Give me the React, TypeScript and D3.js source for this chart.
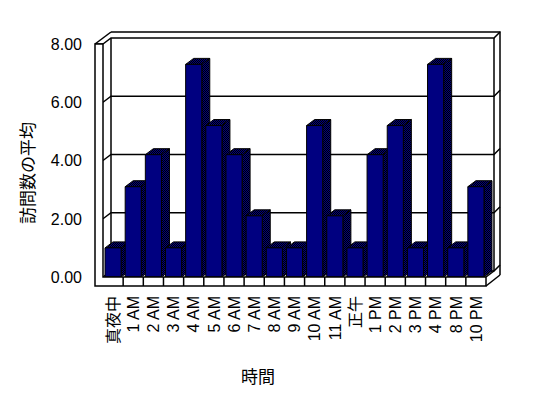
//@ts-nocheck
import * as d3 from 'd3';
import { useEffect, useRef } from 'react';

// categories (hour of day) and average visits
const categories = [
  '真夜中', '1 AM', '2 AM', '3 AM', '4 AM', '5 AM', '6 AM', '7 AM', '8 AM', '9 AM',
  '10 AM', '11 AM', '正午', '1 PM', '2 PM', '3 PM', '4 PM', '8 PM', '10 PM',
];
const visits = [1.0, 3.1, 4.2, 1.0, 7.3, 5.2, 4.2, 2.1, 1.0, 1.0, 5.2, 2.1, 1.0, 4.2, 5.2, 1.0, 7.3, 1.0, 3.1];
const yTicks = [0, 2, 4, 6, 8];
const yTitle = '訪問数の平均';
const xTitle = '時間';

export default function App() {
  const ref = useRef(null);

  useEffect(() => {
    const el = ref.current;
    el.innerHTML = '';

    const W = 548;
    const H = 398;
    // front plane of the plot
    const P = { left: 103, right: 486, top: 44, bottom: 277 };
    const DX = 8; // depth offset
    const DY = -6;
    const WALL = 8; // wall thickness
    const FLOOR = 9;
    const FONT = 'Arial, "Liberation Sans", sans-serif';
    const JP = '"Noto Sans CJK JP", sans-serif';

    const x = d3.scaleBand().domain(categories).range([P.left, P.right]).paddingInner(0.2).paddingOuter(0.1);
    const y = d3.scaleLinear().domain([0, 8]).range([P.bottom, P.top]);

    const svg = d3
      .select(el)
      .append('svg')
      .attr('width', W)
      .attr('height', H)
      .style('position', 'absolute')
      .style('left', 0)
      .style('top', 0)
      .style('background', '#fff');

    // dithered fill for side / top faces
    const pat = svg
      .append('defs')
      .append('pattern')
      .attr('id', 'dither')
      .attr('width', 2)
      .attr('height', 2)
      .attr('patternUnits', 'userSpaceOnUse');
    pat.append('rect').attr('width', 2).attr('height', 2).attr('fill', '#000080');
    pat.append('rect').attr('width', 1).attr('height', 1).attr('fill', '#000');
    pat.append('rect').attr('x', 1).attr('y', 1).attr('width', 1).attr('height', 1).attr('fill', '#000');

    const line = (g, pts) =>
      g.append('path').attr('d', d3.line()(pts)).attr('fill', 'none').attr('stroke', '#000').attr('stroke-width', 1.5);

    const frame = svg.append('g');
    const outerL = P.left - WALL; // side wall outer face (front)
    const backInR = P.right + DX; // back wall inner right
    const backOutR = backInR + 6; // back wall outer right

    // back wall & right end
    line(frame, [
      [outerL + 2 * DX, y(8) + 2 * DY],
      [backOutR, y(8) + 2 * DY],
      [backOutR, P.bottom + FLOOR - 11],
    ]);
    line(frame, [
      [P.left + DX, P.bottom + DY],
      [P.left + DX, y(8) + DY],
    ]);
    line(frame, [
      [backInR, y(8) + DY],
      [backInR, P.bottom + DY],
    ]);

    // gridlines over side wall, back wall and right end
    yTicks.forEach((v) => {
      const fy = y(v);
      if (v > 0) {
        line(frame, [
          [outerL, fy],
          [P.left, fy],
        ]);
      }
      line(frame, [
        [P.left, fy],
        [P.left + DX, fy + DY],
        [backInR, fy + DY],
        [backOutR, fy + 2 * DY],
      ]);
    });

    // side wall top face
    line(frame, [
      [outerL, y(8)],
      [outerL + 2 * DX, y(8) + 2 * DY],
    ]);

    // bars
    const bars = svg.append('g');
    categories.forEach((c, i) => {
      const x0 = x(c);
      const x1 = x0 + x.bandwidth();
      const yt = y(visits[i]);
      const yb = y(0);
      const g = bars.append('g').attr('stroke', '#000').attr('stroke-width', 1).attr('stroke-linejoin', 'round');
      g.append('path')
        .attr('d', d3.line()([[x1, yt], [x1 + DX, yt + DY], [x1 + DX, yb + DY], [x1, yb]]) + 'Z')
        .attr('fill', 'url(#dither)');
      g.append('path')
        .attr('d', d3.line()([[x0, yt], [x0 + DX, yt + DY], [x1 + DX, yt + DY], [x1, yt]]) + 'Z')
        .attr('fill', 'url(#dither)');
      g.append('rect')
        .attr('x', x0)
        .attr('y', yt)
        .attr('width', x.bandwidth())
        .attr('height', yb - yt)
        .attr('fill', '#000080');
    });

    // floor front, side wall front
    const front = svg.append('g');
    front
      .append('path')
      .attr(
        'd',
        d3.line()([
          [outerL, y(8)],
          [P.left, y(8)],
          [P.left, P.bottom],
          [P.right, P.bottom],
          [P.right, P.bottom + FLOOR],
          [outerL, P.bottom + FLOOR],
        ]) + 'Z'
      )
      .attr('fill', '#fff')
      .attr('stroke', '#000')
      .attr('stroke-width', 1.5);
    // floor right end
    line(front, [
      [P.right, P.bottom],
      [backInR, P.bottom + DY],
    ]);
    line(front, [
      [P.right, P.bottom + FLOOR],
      [backOutR, P.bottom + FLOOR - 11],
    ]);
    // category separators on floor front
    const step = x.step();
    d3.range(1, categories.length).forEach((k) => {
      const tx = P.left + k * step;
      line(front, [
        [tx, P.bottom],
        [tx, P.bottom + FLOOR],
      ]);
    });

    // y tick labels
    svg
      .append('g')
      .selectAll('text')
      .data(yTicks)
      .join('text')
      .attr('x', 82)
      .attr('y', (d) => y(d))
      .attr('dy', '0.36em')
      .attr('text-anchor', 'end')
      .attr('fill', '#000')
      .attr('font-family', FONT)
      .attr('font-size', 16)
      .text((d) => d3.format('.2f')(d));

    // x tick labels (rotated)
    svg
      .append('g')
      .selectAll('text')
      .data(categories)
      .join('text')
      .attr('transform', (d) => `translate(${x(d) + x.bandwidth() / 2},${P.bottom + FLOOR + 10}) rotate(-90)`)
      .attr('dy', '0.36em')
      .attr('text-anchor', 'end')
      .attr('fill', '#000')
      .attr('font-family', (d) => (/[A-Z0-9]/.test(d) ? FONT : JP))
      .attr('font-size', 16)
      .text((d) => d);

    // axis titles
    svg
      .append('text')
      .attr('transform', `translate(28,173) rotate(-90)`)
      .attr('dy', '0.36em')
      .attr('text-anchor', 'middle')
      .attr('fill', '#000')
      .attr('font-family', JP)
      .attr('font-size', 17)
      .text(yTitle);

    svg
      .append('text')
      .attr('x', 258)
      .attr('y', 377)
      .attr('dy', '0.36em')
      .attr('text-anchor', 'middle')
      .attr('fill', '#000')
      .attr('font-family', JP)
      .attr('font-size', 17)
      .text(xTitle);
  }, []);

  return <div ref={ref}></div>;
}
